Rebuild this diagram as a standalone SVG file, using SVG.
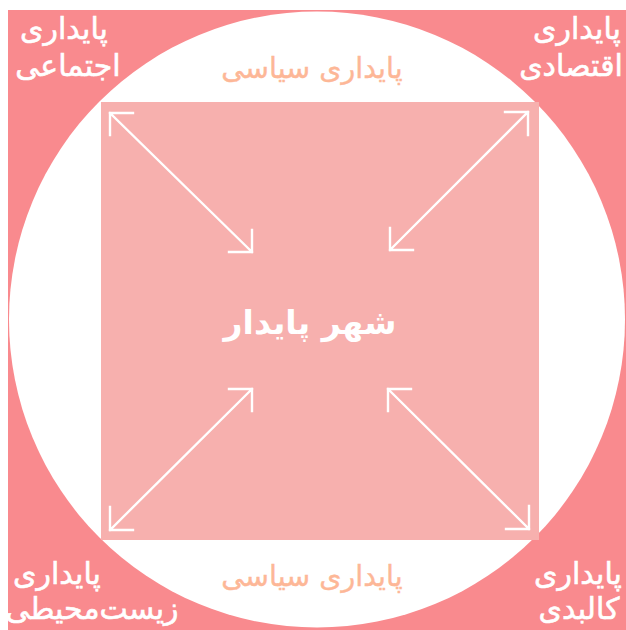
<svg xmlns="http://www.w3.org/2000/svg" width="626" height="630" viewBox="0 0 626 630">
<style>
.corner{font-family:"DejaVu Sans",sans-serif;font-size:30px;fill:#ffffff;stroke:#ffffff;stroke-width:0.6;text-anchor:middle}
.pol{font-family:"DejaVu Sans",sans-serif;font-size:28.5px;fill:#FDB797;stroke:#FDB797;stroke-width:0.4;text-anchor:middle}
.center{font-family:"DejaVu Sans",sans-serif;font-size:33px;font-weight:bold;fill:#ffffff;text-anchor:middle}
.arr{stroke:#ffffff;stroke-width:2.4;fill:none;stroke-linecap:square}
</style>
<rect x="0" y="0" width="626" height="630" fill="#ffffff"/>
<g id="background">
<rect x="8" y="10" width="618" height="620" fill="#F98A8E"/>
<circle cx="317" cy="319.5" r="308" fill="#ffffff"/>
</g>
<g id="city">
<rect x="101" y="102" width="438" height="438" fill="#F7B0AE"/>
<text class="center" x="310" y="334">شهر پایدار</text>
</g>
<g id="social">
<text class="corner" x="64" y="39">پایداری</text>
<text class="corner" x="68" y="76">اجتماعی</text>
</g>
<g id="economic">
<text class="corner" x="577" y="39">پایداری</text>
<text class="corner" x="571" y="76">اقتصادی</text>
</g>
<g id="environmental">
<text class="corner" x="57" y="584">پایداری</text>
<text class="corner" x="92" y="619">زیست‌محیطی</text>
</g>
<g id="physical">
<text class="corner" x="578" y="584">پایداری</text>
<text class="corner" x="579" y="619">کالبدی</text>
</g>
<g id="political-top">
<text class="pol" x="312" y="78">پایداری سیاسی</text>
</g>
<g id="political-bottom">
<text class="pol" x="312" y="586">پایداری سیاسی</text>
</g>
<g id="connectors">
<path class="arr" d="M110,113 L252,252 M110,113 L133,113 M110,113 L110,135 M252,252 L229,252 M252,252 L252,230"/>
<path class="arr" d="M528,112 L390,250 M528,112 L505,112 M528,112 L528,135 M390,250 L413,250 M390,250 L390,228"/>
<path class="arr" d="M110,530 L252,389 M110,530 L133,530 M110,530 L110,507 M252,389 L229,389 M252,389 L252,411"/>
<path class="arr" d="M529,529 L388,389 M529,529 L506,529 M529,529 L529,506 M388,389 L411,389 M388,389 L388,411"/>
</g>
</svg>
